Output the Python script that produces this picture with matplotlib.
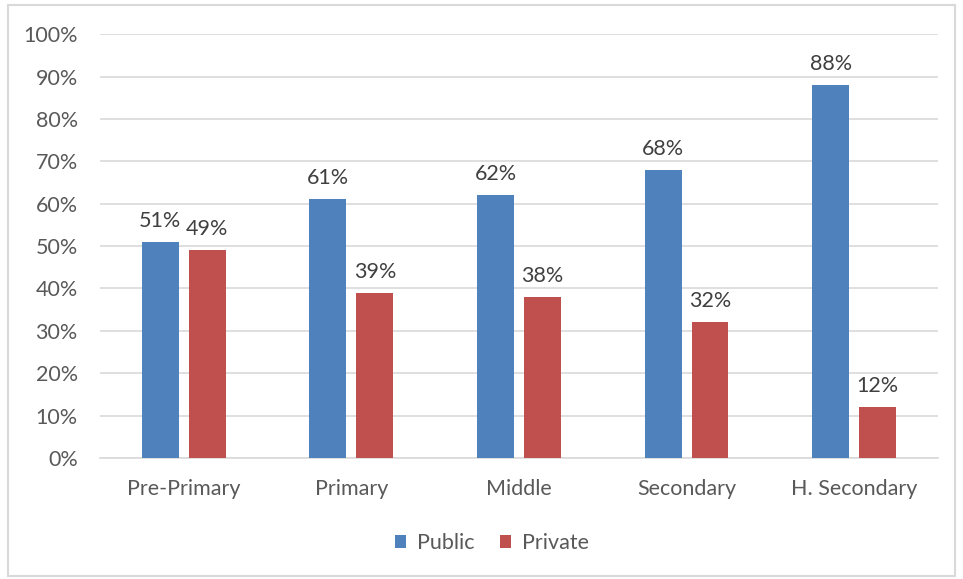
import numpy as np
import matplotlib.pyplot as plt
from matplotlib.patches import Rectangle

# school levels and share of enrolment by management
categories = ['Pre-Primary', 'Primary', 'Middle', 'Secondary', 'H. Secondary']
public = [51, 61, 62, 68, 88]
private = [49, 39, 38, 32, 12]

plt.rcParams['font.family'] = ['Lato', 'DejaVu Sans']
fs = 15.5

fig = plt.figure(figsize=(9.63, 5.79), dpi=100)
ax = fig.add_axes([0.1038, 0.209, 0.8702, 0.732])

x = np.arange(len(categories))
w = 0.22
b1 = ax.bar(x - 0.14, public, w, color='#4F81BD', label='Public', zorder=3)
b2 = ax.bar(x + 0.14, private, w, color='#C0504D', label='Private', zorder=3)

for bars in (b1, b2):
    for r in bars:
        ax.annotate(f'{r.get_height():.0f}%', (r.get_x() + r.get_width() / 2, r.get_height()),
                    xytext=(0, 8), textcoords='offset points', ha='center', va='bottom',
                    fontsize=fs, color='#404040')

ax.set_xlim(-0.5, len(categories) - 0.5)
ax.set_ylim(0, 100)
ax.set_yticks(range(0, 101, 10))
ax.set_yticklabels([f'{v}%' for v in range(0, 101, 10)])
ax.set_xticks(x)
ax.set_xticklabels(categories)
ax.tick_params(axis='both', length=0, labelsize=fs, colors='#595959')
ax.tick_params(axis='x', pad=15)
ax.tick_params(axis='y', pad=16)
ax.grid(axis='y', color='#d9d9d9', lw=1.2, zorder=0)
for s in ['top', 'right', 'left']:
    ax.spines[s].set_visible(False)
ax.spines['bottom'].set_color('#d9d9d9')
ax.spines['bottom'].set_linewidth(1.2)

fig.legend(loc='center', bbox_to_anchor=(0.511, 0.062), ncol=2, frameon=False,
           fontsize=fs, labelcolor='#595959', handlelength=0.5, handleheight=0.5,
           handletextpad=0.5, columnspacing=1.2)

fig.patches.append(Rectangle((0.008, 0.006), 0.984, 0.985, transform=fig.transFigure,
                             fill=False, edgecolor='#d9d9d9', lw=1.5))

plt.savefig('out.png')
